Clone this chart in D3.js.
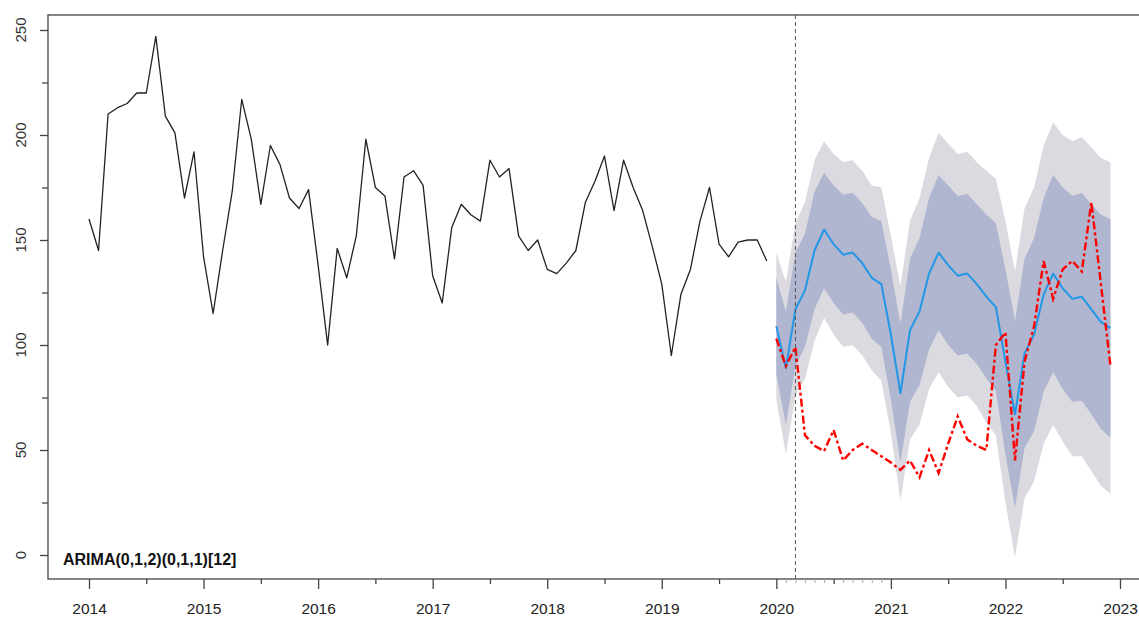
<!DOCTYPE html>
<html>
<head>
<meta charset="utf-8">
<script src="https://cdn.jsdelivr.net/npm/d3@7"></script>
<style>
  html, body { margin: 0; padding: 0; background: #fff; }
  svg { display: block; font-family: "Liberation Sans", Arial, sans-serif; }
</style>
</head>
<body>
<svg id="chart" width="1139" height="617"></svg>
<script>
// ---------- data ----------
const histStart = 2014;            // Jan 2014, monthly
const histValues = [
  160,145,210,213,215,220,220,247,209,201,170,192,
  142,115,145,173,217,198,167,195,186,170,165,174,
  138,100,146,132,152,198,175,171,141,180,183,176,
  133,120,156,167,162,159,188,180,184,152,145,150,
  136,134,139,145,168,178,190,164,188,175,164,147,
  129, 95,124,136,159,175,148,142,149,150,150,140
];
const fcStart = 2020;              // Jan 2020, monthly
const fcMean = [
  109, 89,117,126,145,155,148,143,144,139,132,129,
  105, 77,107,116,134,144,138,133,134,129,123,118,
   92, 67, 96,105,124,134,127,122,123,117,111,108
];
const fcHi80 = [
  132,116,144,153,173,182,176,171.5,172.5,167.5,161,159,
  136,110,141,151,170,181,176,171,172,167,162,158,
  136,111.5,141,151,170,181,175,171,172.5,167,162,160
];
const fcLo80 = [
   86, 62, 90, 99,117,127,120,114.5,115.5,110.5,103, 99,
   74, 44, 73, 81, 98,107,100, 95, 96, 91, 84, 78,
   48,22.5, 51, 59, 78, 87, 79, 73,73.5, 67, 60, 56
];
const fcHi95 = [
  144,130,158,168,188,197,191,187,188,183,176,175,
  152,128,159,170,189,201,196,191,192,187,183,179,
  159,135,165,175,195,206,200,197,199,194,189,187
];
const fcLo95 = [
   74, 48, 76, 84,102,113,105, 99,100, 95, 88, 83,
   58, 26, 55, 62, 79, 87, 80, 75, 76, 71, 63, 57,
   25, -1, 27, 35, 53, 62, 54, 47, 47, 40, 33, 29
];
const actualValues = [
  103, 90, 99, 57, 52,49.5,59.5, 45, 50, 53, 50, 47,
   44,40.5, 45, 37, 50, 39, 53, 66, 55, 52, 50,100,
  106, 45, 92,109,140,122,136,140,135,168,129, 90
];
const yearTicks = [2014,2015,2016,2017,2018,2019,2020,2021,2022,2023];
const halfYearTicks = [2014.5,2015.5,2016.5,2017.5,2018.5,2019.5,2020.5,2021.5,2022.5];
const monthTicks2020 = [2020+1/12,2020+2/12,2020+3/12,2020+4/12,2020+5/12,
                        2020+7/12,2020+8/12,2020+9/12,2020+10/12,2020+11/12];
const yMajorTicks = [0,50,100,150,200,250];
const yMinorTicks = [25,75,125,175,225];
const markerTime = 2020 + 2/12;     // vertical dashed line (Mar 2020)
const modelLabel = "ARIMA(0,1,2)(0,1,1)[12]";

// ---------- layout ----------
const svg = d3.select("#chart");
const box = {left: 48, top: 15, right: 1160, bottom: 579};
const x = d3.scaleLinear().domain([2014, 2023]).range([89, 1120]);
const y = d3.scaleLinear().domain([0, 250]).range([555, 30]);

const hist = histValues.map((v,i) => ({t: histStart + i/12, v}));
const fc = fcMean.map((v,i) => ({
  t: fcStart + i/12, m: v,
  h80: fcHi80[i], l80: fcLo80[i], h95: fcHi95[i], l95: fcLo95[i],
  a: actualValues[i]
}));

const g = svg.append("g");

// bands
g.append("path").datum(fc)
  .attr("fill", "#DADAE0")
  .attr("d", d3.area().x(d => x(d.t)).y0(d => y(d.l95)).y1(d => y(d.h95)));
g.append("path").datum(fc)
  .attr("fill", "#B0B5D0")
  .attr("d", d3.area().x(d => x(d.t)).y0(d => y(d.l80)).y1(d => y(d.h80)));

// history
g.append("path").datum(hist)
  .attr("fill", "none").attr("stroke", "#222").attr("stroke-width", 1.3)
  .attr("stroke-linejoin", "round")
  .attr("d", d3.line().x(d => x(d.t)).y(d => y(d.v)));

// forecast mean
g.append("path").datum(fc)
  .attr("fill", "none").attr("stroke", "#2297E6").attr("stroke-width", 2)
  .attr("stroke-linejoin", "round")
  .attr("d", d3.line().x(d => x(d.t)).y(d => y(d.m)));

// actual (red dash-dot)
g.append("path").datum(fc)
  .attr("fill", "none").attr("stroke", "#FF0000").attr("stroke-width", 2.4)
  .attr("stroke-dasharray", "8,3,3,3")
  .attr("d", d3.line().x(d => x(d.t)).y(d => y(d.a)));

// vertical dashed marker
g.append("line")
  .attr("x1", x(markerTime)).attr("x2", x(markerTime))
  .attr("y1", box.top).attr("y2", box.bottom)
  .attr("stroke", "#555").attr("stroke-width", 1)
  .attr("stroke-dasharray", "4,3");

// frame
svg.append("rect")
  .attr("x", box.left).attr("y", box.top)
  .attr("width", box.right - box.left).attr("height", box.bottom - box.top)
  .attr("fill", "none").attr("stroke", "#444").attr("stroke-width", 1.3);

// x axes
const xMajor = svg.append("g").attr("transform", `translate(0,${box.bottom})`)
  .call(d3.axisBottom(x).tickValues(yearTicks).tickSize(10).tickPadding(14).tickFormat(d3.format("d")));
xMajor.select(".domain").remove();
xMajor.selectAll("line").attr("stroke", "#444").attr("stroke-width", 1.3);
xMajor.selectAll("text").attr("font-size", "15.5px").attr("fill", "#222")
  .attr("font-family", "Liberation Sans, Arial, sans-serif");

const xHalf = svg.append("g").attr("transform", `translate(0,${box.bottom})`)
  .call(d3.axisBottom(x).tickValues(halfYearTicks).tickSize(5).tickFormat(""));
xHalf.select(".domain").remove();
xHalf.selectAll("line").attr("stroke", "#444").attr("stroke-width", 1.3);

const xMonth = svg.append("g").attr("transform", `translate(0,${box.bottom})`)
  .call(d3.axisBottom(x).tickValues(monthTicks2020).tickSize(4).tickFormat(""));
xMonth.select(".domain").remove();
xMonth.selectAll("line").attr("stroke", "#aaa").attr("stroke-width", 1);

// y axes
const yMajor = svg.append("g").attr("transform", `translate(${box.left},0)`)
  .call(d3.axisLeft(y).tickValues(yMajorTicks).tickSize(8).tickFormat(""));
yMajor.select(".domain").remove();
yMajor.selectAll("line").attr("stroke", "#444").attr("stroke-width", 1.3);

const yMinor = svg.append("g").attr("transform", `translate(${box.left},0)`)
  .call(d3.axisLeft(y).tickValues(yMinorTicks).tickSize(6).tickFormat(""));
yMinor.select(".domain").remove();
yMinor.selectAll("line").attr("stroke", "#444").attr("stroke-width", 1.3);

svg.append("g").selectAll("text").data(yMajorTicks).join("text")
  .attr("transform", d => `translate(26,${y(d)}) rotate(-90)`)
  .attr("text-anchor", "middle")
  .attr("font-size", "15px").attr("fill", "#333")
  .text(d => d);

// model label
svg.append("text")
  .attr("x", 63).attr("y", 565)
  .attr("font-size", "16px").attr("font-weight", "bold").attr("fill", "#111")
  .text(modelLabel);
</script>
</body>
</html>
